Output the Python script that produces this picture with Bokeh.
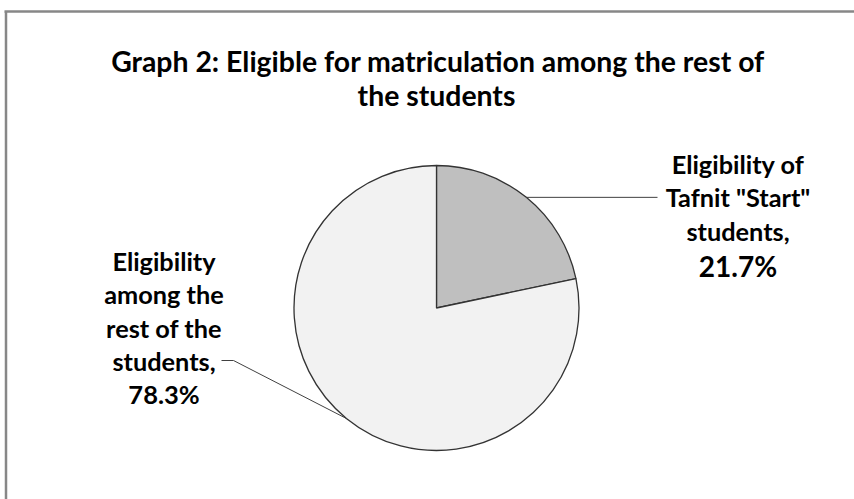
import math
from bokeh.plotting import figure
from bokeh.models import Range1d
from bokeh.core.properties import value
from bokeh.embed import file_html
from bokeh.resources import INLINE

# ---- data ----
title_lines = ["Graph 2: Eligible for matriculation among the rest of", "the students"]
categories = ['Eligibility of Tafnit "Start" students', "Eligibility among the rest of the students"]
shares = [21.7, 78.3]
label_lines = [['Eligibility of', 'Tafnit "Start"', 'students,'], ['Eligibility', 'among the', 'rest of the', 'students,']]
pct_labels = ["21.7%", "78.3%"]
colors = ["#bfbfbf", "#f2f2f2"]

W, H = 854, 499
FONT = "Lato"

p = figure(width=W, height=H, x_range=Range1d(0, W), y_range=Range1d(0, H),
           output_backend="svg", toolbar_location=None, min_border=0)
p.axis.visible = False
p.grid.visible = False
p.outline_line_color = None
p.background_fill_color = "white"
p.border_fill_color = "white"

def Y(img_y):
    return H - img_y

def X(img_x):
    return img_x

# chart border (top & left visible)
p.segment(x0=[X(4), X(5.5)], y0=[Y(11), Y(11)], x1=[W, X(5.5)], y1=[Y(11), 0],
          line_color="#878787", line_width=2.5)

# title
p.text(x=[X(437.5), X(436)], y=[Y(60), Y(94)], text=title_lines,
       text_font=value(FONT), text_font_style="bold", text_font_size="28.4px",
       text_align="center", text_baseline="alphabetic", text_color="#000000")

# pie
cx, cy, r = X(436), Y(307.5), 142.5
total = sum(shares)
starts, ends, mids = [], [], []
a = math.pi / 2
for s in shares:
    span = 2 * math.pi * s / total
    starts.append(a)
    ends.append(a - span)
    mids.append(a - span / 2)
    a -= span
p.wedge(x=[cx] * len(shares), y=[cy] * len(shares), radius=r,
        start_angle=starts, end_angle=ends, direction="clock",
        fill_color=colors, line_color="#333333", line_width=1.3)

# leader lines
m0 = mids[0]
ex0, ey0 = cx + r * math.cos(m0), cy + r * math.sin(m0)
p.line(x=[ex0, X(657)], y=[ey0, ey0], line_color="#404040", line_width=1)
m1 = mids[1]
ex1, ey1 = cx + r * math.cos(m1), cy + r * math.sin(m1)
p.line(x=[ex1, X(233), X(221)], y=[ey1, Y(360), Y(360)], line_color="#404040", line_width=1)

# labels
rx = X(737.5)
p.text(x=[rx] * 3, y=[Y(163), Y(196.5), Y(230)], text=label_lines[0],
       text_font=value(FONT), text_font_style="bold", text_font_size="25.3px",
       text_align="center", text_baseline="alphabetic", text_color="#000000")
p.text(x=[rx], y=[Y(265)], text=[pct_labels[0]],
       text_font=value(FONT), text_font_style="bold", text_font_size="28px",
       text_align="center", text_baseline="alphabetic", text_color="#000000")
lx = X(163.5)
p.text(x=[lx] * 4, y=[Y(260), Y(293), Y(327), Y(360)], text=label_lines[1],
       text_font=value(FONT), text_font_style="bold", text_font_size="25.3px",
       text_align="center", text_baseline="alphabetic", text_color="#000000")
p.text(x=[lx], y=[Y(393.5)], text=[pct_labels[1]],
       text_font=value(FONT), text_font_style="bold", text_font_size="25.5px",
       text_align="center", text_baseline="alphabetic", text_color="#000000")

open("out.html", "w").write(file_html(p, INLINE))
